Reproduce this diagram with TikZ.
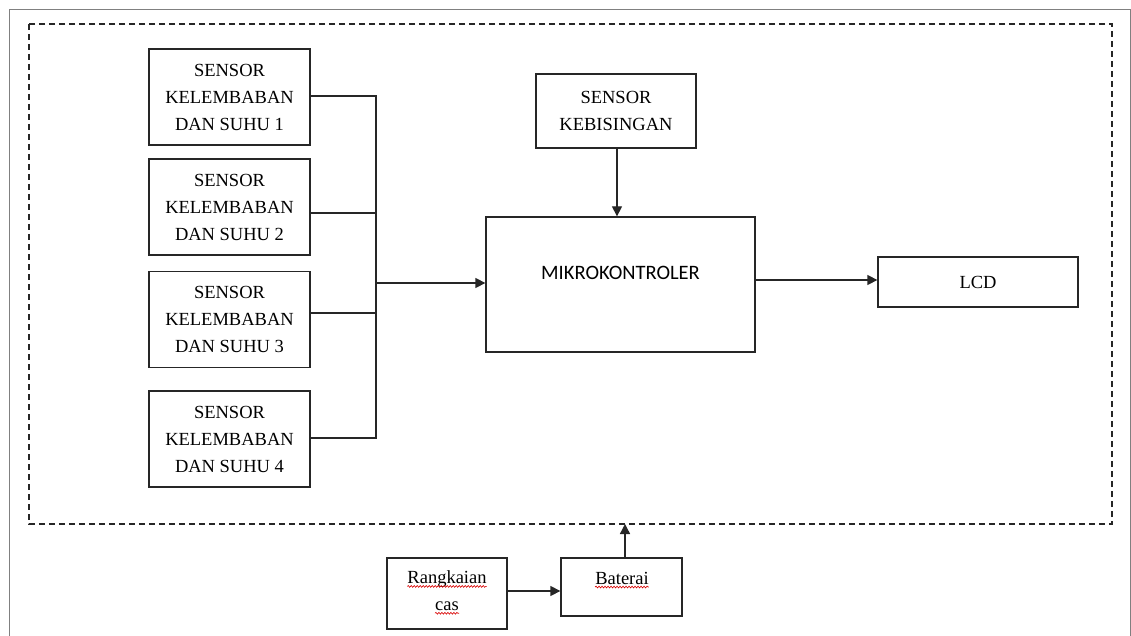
\documentclass[tikz,border=0pt]{standalone}
\usepackage{fontspec}
\setmainfont{Liberation Serif}
\newfontfamily\calfont{Carlito}
\usetikzlibrary{arrows.meta,decorations.pathmorphing}
\begin{document}
\begin{tikzpicture}[x=1pt,y=-1pt,
  box/.style={draw=black!85,line width=1.3pt,rectangle,inner sep=0pt,align=center,
    font={\fontsize{18.5}{27}\selectfont}},
  txt/.style={inner sep=0pt,font={\fontsize{18.5}{27}\selectfont}},
  conn/.style={draw=black!85,line width=1.3pt},
  arr/.style={conn,-{Triangle[length=10pt,width=10pt]}},
  wavy/.style={draw=red!85!black,line width=0.6pt,decorate,
    decoration={snake,amplitude=0.9pt,segment length=3pt}},
  frame/.style={draw=black!50,line width=1pt},
  dashbox/.style={draw=black!85,line width=1.8pt,dash pattern=on 6pt off 4pt}]
\useasboundingbox[fill=white] (0,0) rectangle (1131,636);
% outer frame
\draw[frame] (9,640) -- (9,10) -- (1130,10) -- (1130,640);
% dashed system boundary
\draw[dashbox] (29,24) rectangle (1112,524);
\coordinate (sysbot) at (625,524);
% humidity/temperature sensors
\node[box,minimum width=161pt,minimum height=96pt] (s1) at (229.5,97) {SENSOR\\KELEMBABAN\\DAN SUHU 1};
\node[box,minimum width=161pt,minimum height=96pt] (s2) at (229.5,207) {SENSOR\\KELEMBABAN\\DAN SUHU 2};
\node[box,minimum width=161pt,minimum height=96pt] (s3) at (229.5,319.5) {SENSOR\\KELEMBABAN\\DAN SUHU 3};
\node[box,minimum width=161pt,minimum height=96pt] (s4) at (229.5,439) {SENSOR\\KELEMBABAN\\DAN SUHU 4};
% noise sensor
\node[box,minimum width=160pt,minimum height=74pt] (noise) at (616,111) {SENSOR\\KEBISINGAN};
% microcontroller
\node[box,minimum width=269pt,minimum height=135pt] (mcu) at (620.5,284.5) {};
\node[inner sep=0pt,font={\calfont\fontsize{20.5}{24}\selectfont}] (mcutxt) at ([yshift=12pt]mcu.center) {MIKROKONTROLER};
% LCD
\node[box,minimum width=200pt,minimum height=50pt] (lcd) at (978,282) {LCD};
% charging circuit and battery
\node[box,minimum width=120pt,minimum height=71pt] (rc) at (447,593.5) {};
\node[txt] (rc1) at (447,579) {Rangkaian};
\node[txt] (rc2) at (447,606) {cas};
\node[box,minimum width=121pt,minimum height=58pt] (bat) at (621.5,587) {};
\node[txt] (bat1) at (622,578) {Baterai};
% spell-check underlines
\draw[wavy] ([yshift=-3pt]rc1.base west) -- ([yshift=-3pt]rc1.base east);
\draw[wavy] ([yshift=-3pt]rc2.base west) -- ([yshift=-3pt]rc2.base east);
\draw[wavy] ([yshift=-3pt]bat1.base west) -- ([yshift=-3pt]bat1.base east);
% bus
\coordinate (bus) at (376,283);
\draw[conn] ([yshift=1pt]s1.east) -| (bus);
\draw[conn] ([yshift=-6pt]s2.east) -| (bus);
\draw[conn] ([yshift=6.5pt]s3.east) -| (bus);
\draw[conn] ([yshift=1pt]s4.east) -| (bus);
\draw[arr] (bus) -- (bus -| mcu.west);
% other connectors
\draw[arr] (noise.south) ++(1pt,0) coordinate (nz) -- (nz |- mcu.north);
\draw[arr] ([yshift=4.5pt]mcu.east) -- ([yshift=4.5pt]mcu.east -| lcd.west);
\draw[arr] ([yshift=2.5pt]rc.east) -- ([yshift=2.5pt]rc.east -| bat.west);
\draw[arr] ([xshift=3.5pt]bat.north) -- ([xshift=3.5pt]bat.north |- sysbot);
\end{tikzpicture}
\end{document}
